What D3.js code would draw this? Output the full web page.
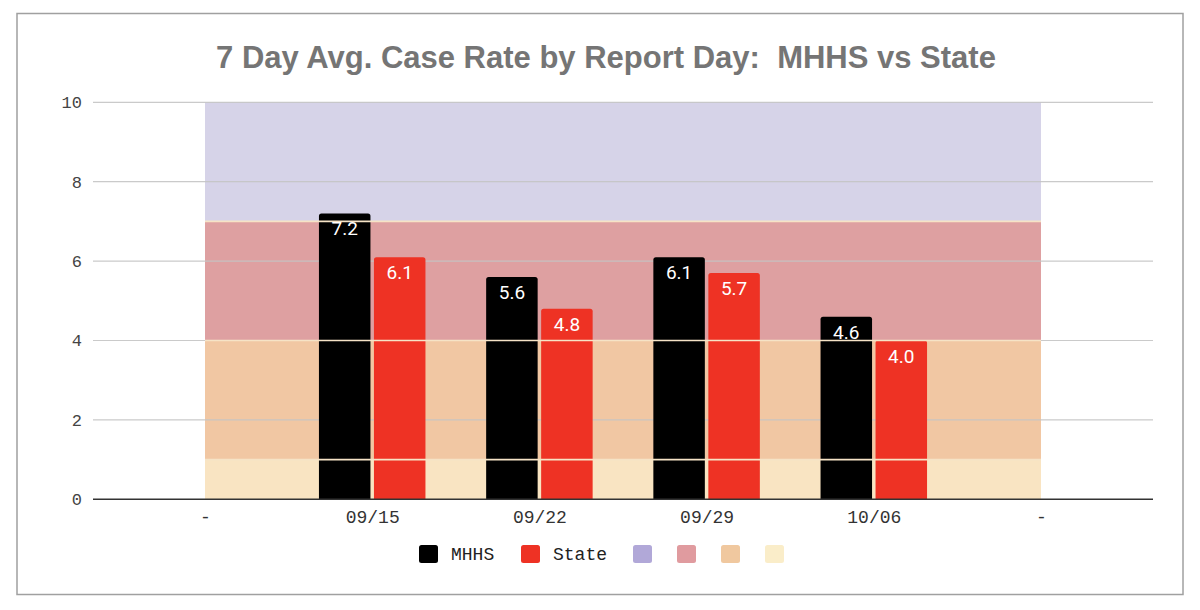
<!DOCTYPE html>
<html>
<head>
<meta charset="utf-8">
<script src="https://cdn.jsdelivr.net/npm/d3@7/dist/d3.min.js"></script>
<style>
  html, body { margin: 0; padding: 0; background: #fff; }
  svg { display: block; }
</style>
</head>
<body>
<svg id="chart" width="1200" height="610"></svg>
<script>
// ---- data ----
const categories = ["-", "09/15", "09/22", "09/29", "10/06", " -"];
const categoryLabels = ["-", "09/15", "09/22", "09/29", "10/06", "-"];
const barCategories = ["09/15", "09/22", "09/29", "10/06"];
const mhhsValues = [7.2, 5.6, 6.1, 4.6];
const stateValues = [6.1, 4.8, 5.7, 4.0];
const bandNames = ["Band 7-10", "Band 4-7", "Band 1-4", "Band 0-1"];
const bandLower = [7, 4, 1, 0];
const bandUpper = [10, 7, 4, 1];
const yTicks = [0, 2, 4, 6, 8, 10];
const seriesNames = ["MHHS", "State"];
const titleText = "7 Day Avg. Case Rate by Report Day:  MHHS vs State";

// ---- styles ----
const bandFill = ["#d6d3e8", "#dea0a1", "#f1c7a3", "#f9e4c2"];
const bandLegend = ["#b1a8d8", "#e09b9f", "#f0c89f", "#faedc9"];
const seriesColors = ["#000000", "#ee3224"];

const svg = d3.select("#chart");

// border
svg.append("rect")
  .attr("x", 17).attr("y", 13.5).attr("width", 1166).attr("height", 581)
  .attr("fill", "#fff").attr("stroke", "#a0a0a0").attr("stroke-width", 1.5);

// title
svg.append("text")
  .attr("x", 606).attr("y", 68)
  .attr("text-anchor", "middle")
  .style("white-space", "pre")
  .attr("font-family", "'Liberation Sans', Arial, sans-serif")
  .attr("font-weight", "bold")
  .attr("font-size", 31)
  .attr("fill", "#757575")
  .text(titleText);

// scales
const y = d3.scaleLinear().domain([0, 10]).range([499.3, 102.3]);
const x = d3.scalePoint().domain(categories).range([205, 1041]);
const gridLeft = 93, gridRight = 1153;

// bands (stepped area across full category range)
const bandG = svg.append("g");
bandNames.forEach((n, i) => {
  bandG.append("rect")
    .attr("x", x(categories[0]))
    .attr("width", x(categories[categories.length - 1]) - x(categories[0]))
    .attr("y", y(bandUpper[i]))
    .attr("height", y(bandLower[i]) - y(bandUpper[i]))
    .attr("fill", bandFill[i]);
});

// gridlines
const gridG = svg.append("g");
yTicks.filter(t => t !== 0).forEach(t => {
  gridG.append("line")
    .attr("x1", gridLeft).attr("x2", gridRight)
    .attr("y1", y(t)).attr("y2", y(t))
    .attr("stroke", "#c4c4c4").attr("stroke-width", 1.2)
    .attr("stroke-opacity", 0.9);
});

// y axis labels
const yAxis = d3.axisLeft(y).tickValues(yTicks).tickSize(0).tickPadding(0);
const yG = svg.append("g").attr("transform", `translate(${82},0)`).call(yAxis);
yG.select(".domain").remove();
yG.selectAll("text")
  .attr("font-family", "'Liberation Mono', 'Courier New', monospace")
  .attr("font-size", 17)
  .attr("fill", "#444");

// bars
const barW = 51.5, gap = 3.5;
const barG = svg.append("g");
const seriesValues = [mhhsValues, stateValues];
function topRoundedRect(x0, y0, w, h, r) {
  return `M${x0},${y0 + h}V${y0 + r}Q${x0},${y0} ${x0 + r},${y0}H${x0 + w - r}Q${x0 + w},${y0} ${x0 + w},${y0 + r}V${y0 + h}Z`;
}
seriesNames.forEach((s, si) => {
  barCategories.forEach((c, ci) => {
    const v = seriesValues[si][ci];
    const bx = x(c) + (si === 0 ? -(barW + gap / 2) : gap / 2);
    const by = y(v);
    const bh = y(0) - by;
    barG.append("path")
      .attr("d", topRoundedRect(bx, by, barW, bh, 2.5))
      .attr("fill", seriesColors[si]);
  });
});

// band boundary lines (drawn over bars)
const lineG = svg.append("g");
bandLower.filter(v => v > 0).forEach(v => {
  lineG.append("line")
    .attr("x1", x(categories[0])).attr("x2", x(categories[categories.length - 1]))
    .attr("y1", y(v)).attr("y2", y(v))
    .attr("stroke", "#f6e3c6").attr("stroke-width", 1.6);
});

// data labels
const labelG = svg.append("g");
seriesNames.forEach((s, si) => {
  barCategories.forEach((c, ci) => {
    const v = seriesValues[si][ci];
    const cx = x(c) + (si === 0 ? -(barW / 2 + gap / 2) : (barW / 2 + gap / 2));
    labelG.append("text")
      .attr("x", cx).attr("y", y(v) + 22)
      .attr("text-anchor", "middle")
      .attr("font-family", "Roboto, 'Noto Sans', sans-serif")
      .attr("font-size", 19)
      .attr("fill", "#fff")
      .text(v.toFixed(1));
  });
});

// baseline
svg.append("line")
  .attr("x1", gridLeft).attr("x2", gridRight)
  .attr("y1", y(0)).attr("y2", y(0))
  .attr("stroke", "#333").attr("stroke-width", 1.5);

// x axis labels
const xAxis = d3.axisBottom(x).tickSize(0).tickPadding(0).tickFormat((d, i) => categoryLabels[i]);
const xG = svg.append("g").attr("transform", `translate(0,${y(0)})`).call(xAxis);
xG.select(".domain").remove();
xG.selectAll("text")
  .attr("y", 24)
  .attr("dy", null)
  .attr("font-family", "'Liberation Mono', 'Courier New', monospace")
  .attr("font-size", 18)
  .attr("fill", "#333");

// legend
const legendItems = [
  { name: "MHHS", color: seriesColors[0], x: 419 },
  { name: "State", color: seriesColors[1], x: 521 },
  { name: "", color: bandLegend[0], x: 633 },
  { name: "", color: bandLegend[1], x: 677 },
  { name: "", color: bandLegend[2], x: 721 },
  { name: "", color: bandLegend[3], x: 765 }
];
const legG = svg.append("g");
legendItems.forEach(it => {
  legG.append("rect")
    .attr("x", it.x).attr("y", 545).attr("width", 19).attr("height", 18)
    .attr("rx", 2.5).attr("fill", it.color);
  if (it.name) {
    legG.append("text")
      .attr("x", it.x + 32).attr("y", 560)
      .attr("font-family", "'Liberation Mono', 'Courier New', monospace")
      .attr("font-size", 18)
      .attr("fill", "#222")
      .text(it.name);
  }
});
</script>
</body>
</html>
